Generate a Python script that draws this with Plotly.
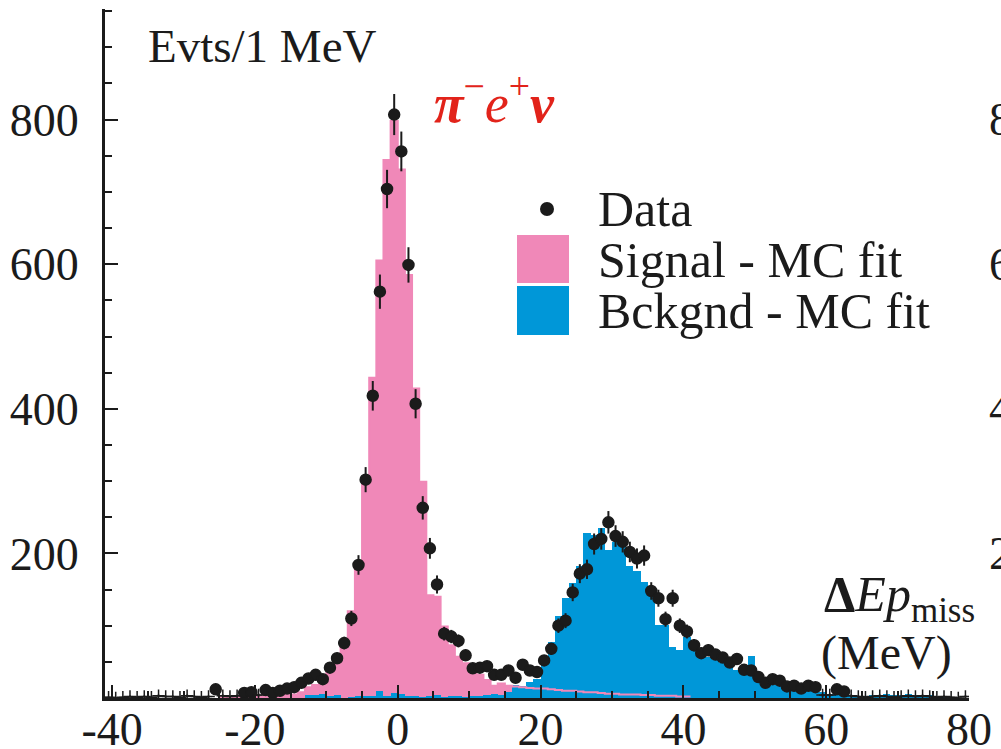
import numpy as np
import plotly.graph_objects as go

# ---------------- data (1 MeV bins, centres -40.5 ... 79.5) ----------------
bin_first_edge = -41
bin_width = 1.0

data_counts = [
    1, 0, 1, 2, 1, 2, 1, 3, 2, 2,          # -40.5 .. -31.5
    1, 3, 2, 1, 2, 12, 3, 2, 3, 7,         # -30.5 .. -21.5
    8, 4, 11, 7, 10, 13, 15, 21, 27, 32,   # -20.5 .. -11.5
    26, 42, 55, 76, 110, 184, 302, 418, 562, 704,  # -10.5 .. -1.5
    807, 756, 599, 407, 263, 207, 157, 89, 85, 79,  # -0.5 .. 8.5
    59, 41, 42, 44, 32, 32, 38, 28, 46, 38,          # 9.5 .. 18.5
    36, 52, 68, 100, 107, 146, 172, 178, 213, 220,   # 19.5 .. 28.5
    243, 224, 216, 202, 193, 197, 148, 138, 109, 138,  # 29.5 .. 38.5
    100, 92, 73, 62, 66, 60, 56, 49, 54, 39,          # 39.5 .. 48.5
    38, 29, 21, 26, 24, 16, 17, 13, 17, 15,          # 49.5 .. 58.5
    4, 4, 12, 9, 3, 2, 1, 2, 3, 2,                   # 59.5 .. 68.5
    1, 2, 3, 2, 3, 2, 1, 2, 1, 0,                    # 69.5 .. 78.5
    2,                                               # 79.5
]

signal_mc = [
    0, 0, 0, 0, 0, 0, 0, 0, 0, 0,          # -40.5 .. -31.5
    0, 0, 0, 0, 0, 0, 1, 1, 1, 1,          # -30.5 .. -21.5
    2, 2, 2, 3, 3, 4, 5, 8, 15, 18,        # -20.5 .. -11.5
    22, 35, 50, 71, 120, 180, 300, 443, 605, 744,  # -10.5 .. -1.5
    798, 731, 585, 428, 299, 142, 140, 99, 73, 57,  # -0.5 .. 8.5
    48, 36, 32, 25, 17, 20, 17, 16, 15, 14,          # 9.5 .. 18.5
    13, 13, 12, 11, 10, 10, 9, 8, 8, 7,              # 19.5 .. 28.5
    6, 6, 5, 5, 5, 4, 4, 3, 3, 3,                    # 29.5 .. 38.5
    2, 2, 0, 0, 0, 0, 0, 0, 0, 0,                    # 39.5 .. 48.5
    0, 0, 0, 0, 0, 0, 0, 0, 0, 0,
    0, 0, 0, 0, 0, 0, 0, 0, 0, 0,
    0, 0, 0, 0, 0, 0, 0, 0, 0, 0,
    0,
]

bkg_mc = [
    0, 0, 0, 0, 0, 0, 0, 0, 0, 0,          # -40.5 .. -31.5
    0, 0, 0, 0, 0, 0, 0, 0, 0, 0,          # -30.5 .. -21.5
    0, 0, 0, 0, 0, 0, 0, 0, 4, 4,          # -20.5 .. -11.5
    6, 2, 4, 0, 1, 2, 3, 2, 10, 3,         # -10.5 .. -1.5
    7, 6, 2, 3, 1, 2, 4, 1, 3, 3,          # -0.5 .. 8.5
    1, 2, 2, 4, 5, 4, 8, 18, 16, 22,       # 9.5 .. 18.5
    26, 55, 78, 113, 138, 159, 182, 228, 226, 235,   # 19.5 .. 28.5
    205, 216, 209, 182, 175, 160, 147, 101, 101, 71,  # 29.5 .. 38.5
    66, 85, 69, 64, 57, 53, 49, 43, 39, 39,          # 39.5 .. 48.5
    58, 30, 20, 18, 18, 15, 14, 12, 12, 10,          # 49.5 .. 58.5
    8, 6, 7, 5, 3, 2, 2, 4, 4, 5,                    # 59.5 .. 68.5
    4, 4, 5, 4, 3, 4, 1, 1, 0, 0,                    # 69.5 .. 78.5
    0,
]

x_tickvals = [-40, -20, 0, 20, 40, 60, 80]
x_ticktext = ["-40", "-20", "0", "20", "40", "60", "80"]
y_tickvals = [200, 400, 600, 800]
y_ticktext = ["200", "400", "600", "800"]
right_panel_labels = ["800", "600", "400", "200"]

# ---------------- derived ----------------
n = len(data_counts)
centers = bin_first_edge + bin_width * (np.arange(n) + 0.5)
data_arr = np.array(data_counts, dtype=float)
sig = np.array(signal_mc, dtype=float)
bkg = np.array(bkg_mc, dtype=float)

PINK = "#F088B8"
BLUE = "#0097D8"
RED = "#E2231A"
INK = "#1b1b1b"
FONT = "Liberation Serif"

fig = go.Figure()

fig.add_trace(go.Bar(x=centers, y=sig, width=bin_width, marker=dict(color=PINK, line=dict(width=0)),
                     opacity=1, name="Signal - MC fit", showlegend=False))
fig.add_trace(go.Bar(x=centers, y=bkg, width=bin_width, marker=dict(color=BLUE, line=dict(width=0)),
                     opacity=1, name="Bckgnd - MC fit", showlegend=False))

# signal outline drawn over background
nz = np.where(sig > 0)[0]
i0, i1 = nz[0], nz[-1]
edges = list(centers[i0:i1 + 1] - bin_width / 2) + [centers[i1] + bin_width / 2]
vals = list(sig[i0:i1 + 1]) + [sig[i1]]
fig.add_trace(go.Scatter(x=edges, y=vals, mode="lines", line=dict(color=PINK, width=2, shape="hv"),
                         showlegend=False, hoverinfo="skip"))

low = data_arr < 5
symbols = ["cross-thin" if l else "circle" for l in low]
sizes = [9 if l else 11 for l in low]
fig.add_trace(go.Scatter(
    x=centers, y=data_arr, mode="markers", name="Data", showlegend=False, opacity=1,
    marker=dict(color=INK, size=sizes, symbol=symbols, opacity=1, line=dict(color=INK, width=1.5)),
    error_y=dict(type="data", array=np.sqrt(data_arr), color=INK, thickness=2, width=0),
    error_x=dict(type="constant", value=bin_width / 2, color=INK, thickness=1.2, width=0),
))

# ---------------- layout ----------------
W_FIG, H_FIG = 1001, 749
L, R, T, B = 105, 32, 9, 51
PW, PH = W_FIG - L - R, H_FIG - T - B


def px(x):
    return (x - L) / PW


def py(y):
    return (H_FIG - B - y) / PH


shapes = [
    dict(type="circle", xref="paper", yref="paper", x0=px(540), x1=px(554), y0=py(216), y1=py(202),
         fillcolor=INK, line=dict(width=0)),
    dict(type="rect", xref="paper", yref="paper", x0=px(517), x1=px(569), y0=py(283), y1=py(235),
         fillcolor=PINK, line=dict(width=0)),
    dict(type="rect", xref="paper", yref="paper", x0=px(517), x1=px(569), y0=py(335), y1=py(286),
         fillcolor=BLUE, line=dict(width=0)),
]

ann = []


def text(x, y, s, size, color="#1b1b1b", xanchor="left"):
    ann.append(dict(xref="paper", yref="paper", x=px(x), y=py(y), text=s, showarrow=False,
                    xanchor=xanchor, yanchor="middle", font=dict(family=FONT, size=size, color=color)))


text(146, 46, "Evts/1 MeV", 47)
text(432, 100, "<b><i>π</i></b><sup>−</sup><i>e</i><sup>+</sup><b><i>ν</i></b>", 54, color=RED)
text(596, 209, "Data", 50)
text(596, 260, "Signal - MC fit", 50)
text(596, 311, "Bckgnd - MC fit", 50)
text(977, 598, "<b>Δ</b><i>Ep</i><sub>miss</sub>", 50, xanchor="right")
text(886, 653, "(MeV)", 48, xanchor="center")

for lab, v in zip(right_panel_labels, y_tickvals[::-1]):
    ann.append(dict(xref="paper", yref="y", x=px(987), y=v, text=lab, showarrow=False,
                    xanchor="left", yanchor="middle", font=dict(family=FONT, size=46, color=INK)))

fig.update_layout(
    width=W_FIG, height=H_FIG, margin=dict(l=L, r=R, t=T, b=B, pad=0, autoexpand=False),
    paper_bgcolor="white", plot_bgcolor="white",
    barmode="overlay", bargap=0, showlegend=False,
    shapes=shapes, annotations=ann,
    xaxis=dict(range=[-41, 80], showgrid=False, zeroline=False, showline=True, linecolor=INK, linewidth=3,
               ticks="inside", tickvals=x_tickvals, ticktext=x_ticktext, ticklen=13, tickwidth=2,
               tickcolor=INK, minor=dict(ticks="inside", dtick=5, tick0=0, ticklen=7, tickwidth=2, tickcolor=INK),
               tickfont=dict(family=FONT, size=46, color=INK), ticklabelstandoff=-11,
               layer="above traces", automargin=False),
    yaxis=dict(range=[0, 953], showgrid=False, zeroline=False, showline=True, linecolor=INK, linewidth=3,
               ticks="inside", tickvals=y_tickvals, ticktext=y_ticktext, ticklen=13, tickwidth=2,
               tickcolor=INK, minor=dict(ticks="inside", dtick=50, tick0=0, ticklen=7, tickwidth=2, tickcolor=INK),
               tickfont=dict(family=FONT, size=46, color=INK), ticklabelstandoff=14, layer="above traces",
               automargin=False),
)

fig.write_html("out.html")
